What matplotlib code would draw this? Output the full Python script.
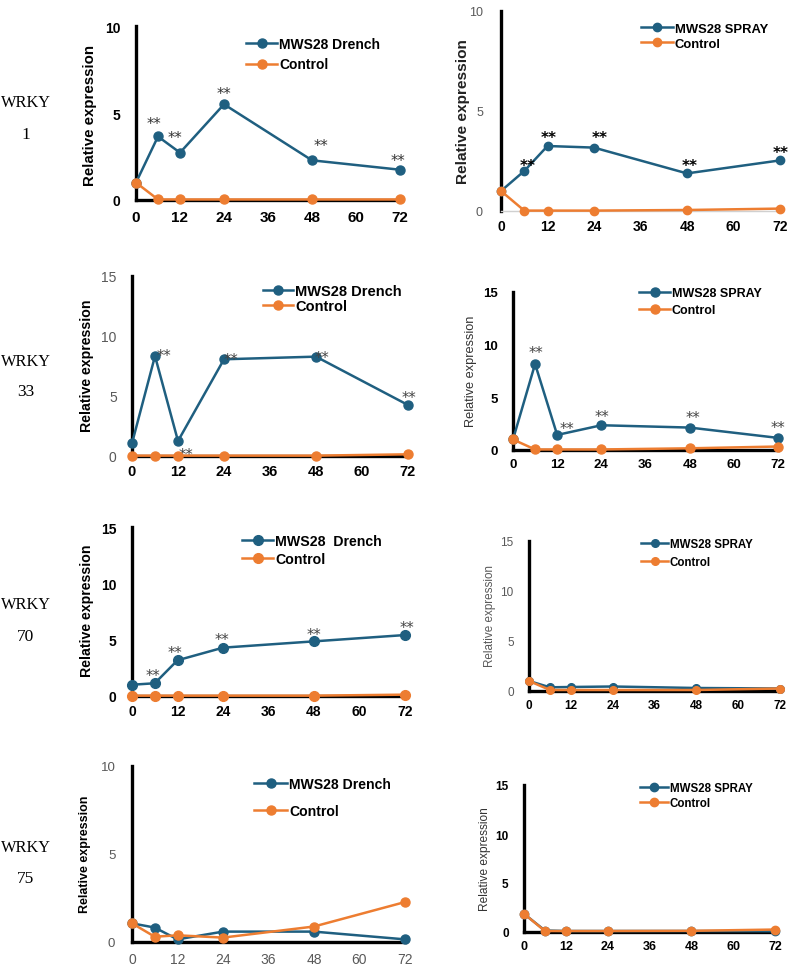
import matplotlib.pyplot as plt

plt.rcParams['font.family'] = ['Liberation Sans', 'DejaVu Sans']

W, H = 800, 978
BLUE = '#1F5F80'
ORANGE = '#ED7D31'
GREY = '#595959'

# ---- data ----
hours = [0, 6, 12, 24, 48, 72]
xticks = [0, 12, 24, 36, 48, 60, 72]
genes = ['1', '33', '70', '75']

wrky1_drench = [1.0, 3.65, 2.72, 5.5, 2.28, 1.74]
wrky1_drench_ctrl = [1.0, 0.03, 0.03, 0.03, 0.03, 0.03]
wrky1_spray = [1.0, 2.0, 3.25, 3.17, 1.88, 2.53]
wrky1_spray_ctrl = [1.0, 0.02, 0.02, 0.02, 0.05, 0.12]

wrky33_drench = [1.06, 8.33, 1.25, 8.06, 8.28, 4.25]
wrky33_drench_ctrl = [0.03, 0.03, 0.03, 0.03, 0.03, 0.14]
wrky33_spray = [1.0, 8.17, 1.43, 2.35, 2.13, 1.15]
wrky33_spray_ctrl = [1.0, 0.05, 0.05, 0.05, 0.16, 0.33]

wrky70_drench = [1.0, 1.13, 3.17, 4.29, 4.85, 5.41]
wrky70_drench_ctrl = [0.03, 0.03, 0.03, 0.03, 0.03, 0.12]
wrky70_spray = [1.0, 0.37, 0.4, 0.45, 0.3, 0.25]
wrky70_spray_ctrl = [1.0, 0.1, 0.1, 0.1, 0.1, 0.25]

wrky75_drench = [1.06, 0.82, 0.15, 0.59, 0.59, 0.15]
wrky75_drench_ctrl = [1.06, 0.3, 0.38, 0.25, 0.88, 2.27]
wrky75_spray = [1.86, 0.15, 0.1, 0.1, 0.1, 0.08]
wrky75_spray_ctrl = [1.86, 0.1, 0.1, 0.1, 0.12, 0.25]

# "**" marks (hour, value)
stars1_drench = [(4.9, 4.6), (10.6, 3.8), (24, 6.3), (50.5, 3.35), (71.5, 2.5)]
stars1_spray = [(6.8, 2.45), (12.2, 3.85), (25.5, 3.85), (48.6, 2.45), (72.2, 3.1)]
stars33_drench = [(8.4, 8.67), (14.2, 0.42), (25.8, 8.33), (49.6, 8.47), (72.2, 5.14)]
stars33_spray = [(6.25, 9.6), (14.75, 2.35), (24.2, 3.56), (49, 3.4), (72.1, 2.5)]
stars70_drench = [(5.5, 2.13), (11.3, 4.15), (23.85, 5.3), (47.9, 5.74), (72.5, 6.36)]

fig = plt.figure(figsize=(W / 100, H / 100), dpi=100)


def px_axes(x0, x72, ytop, y0):
    return fig.add_axes([x0 / W, 1 - y0 / H, (x72 - x0) / W, (y0 - ytop) / H])


def panel(box, ymax, treat, ctrl, name, st):
    ax = px_axes(*box)
    ax.plot(hours, treat, color=BLUE, marker='o', lw=st['lw'], ms=st['ms'],
            clip_on=False, label=name, zorder=3)
    ax.plot(hours, ctrl, color=ORANGE, marker='o', lw=st['lw'], ms=st['ms'],
            clip_on=False, label='Control', zorder=4)
    ax.set_xlim(0, 72)
    ax.set_ylim(0, ymax)
    ax.set_xticks(xticks)
    ax.set_yticks(range(0, ymax + 1, 5))
    for s in ['top', 'right']:
        ax.spines[s].set_visible(False)
    ax.spines['left'].set_linewidth(2.4)
    ax.spines['left'].set_color('black')
    ax.spines['bottom'].set_linewidth(st.get('xlw', 2.4))
    ax.spines['bottom'].set_color(st.get('xcol', 'black'))
    ax.patch.set_alpha(0)
    ax.tick_params(axis='x', length=0, pad=st['xpad'], labelsize=st['xfs'],
                   labelcolor=st['xcolor'])
    ax.tick_params(axis='y', length=0, pad=st['ypad'], labelsize=st['yfs'],
                   labelcolor=st['ycolor'])
    for t in ax.get_xticklabels():
        t.set_fontweight(st['xw'])
    for t in ax.get_yticklabels():
        t.set_fontweight(st['yw'])
    # y label
    lx, ly, lfs, lw_, lc = st['label']
    fig.text(lx / W, 1 - ly / H, 'Relative expression', rotation=90,
             ha='center', va='center', fontsize=lfs, fontweight=lw_, color=lc)
    # legend
    x, y, fs, row, hlen = st['legend']
    fs_px = fs * 100 / 72
    ax.legend(loc='upper left',
              bbox_to_anchor=(x / W, 1 - (y + 3 - 0.56 * fs_px) / H),
              bbox_transform=fig.transFigure, frameon=False, borderpad=0,
              borderaxespad=0, labelspacing=(row - 0.92 * fs_px) / fs_px,
              handlelength=hlen / fs_px, handletextpad=0.15,
              prop={'weight': 'bold', 'size': fs})
    return ax


def stars(ax, pts, fs=10, weight='normal', color='#333333'):
    for hx, vy in pts:
        ax.annotate('**', (hx, vy), xytext=(0, -0.55 * fs), textcoords='offset points',
                    ha='center', va='baseline', fontsize=fs, fontweight=weight,
                    color=color, family='DejaVu Sans', annotation_clip=False)


# row 1
ax = panel((136, 400, 27, 201), 10, wrky1_drench, wrky1_drench_ctrl, 'MWS28 Drench',
           dict(lw=1.8, ms=6.5, xpad=7, xfs=11, xcolor='black', xw='bold',
                ypad=11, yfs=10, ycolor='black', yw='bold',
                label=(90, 115, 10.8, 'bold', 'black'), legend=(246, 43, 10, 19, 31)))
stars(ax, stars1_drench, fs=10.5)
ax = panel((501, 780, 12, 212), 10, wrky1_spray, wrky1_spray_ctrl, 'MWS28 SPRAY',
           dict(lw=1.8, ms=6, xpad=6, xfs=10, xcolor='black', xw='bold',
                ypad=13, yfs=9, ycolor=GREY, yw='normal', xlw=1, xcol='#d0d0d0',
                label=(463, 112, 11.1, 'bold', '#222222'), legend=(641, 28, 9.4, 15, 32)))
stars(ax, stars1_spray, fs=11, weight='bold', color='black')

# row 2
ax = panel((132, 408, 277, 457), 15, wrky33_drench, wrky33_drench_ctrl, 'MWS28 Drench',
           dict(lw=1.8, ms=6.5, xpad=6, xfs=10.5, xcolor='black', xw='bold',
                ypad=11, yfs=10, ycolor=GREY, yw='normal',
                label=(87, 366, 10.2, 'bold', 'black'), legend=(263, 290, 10.5, 15, 30)))
stars(ax, stars33_drench, fs=10.5, color='#444444')
ax = panel((513, 778, 293, 451), 15, wrky33_spray, wrky33_spray_ctrl, 'MWS28 SPRAY',
           dict(lw=1.8, ms=6.5, xpad=6, xfs=9.5, xcolor='black', xw='bold',
                ypad=11, yfs=9.5, ycolor='black', yw='bold',
                label=(471, 371, 9.2, 'normal', '#333333'), legend=(639, 292, 9, 17, 31)))
stars(ax, stars33_spray, fs=10.5, color='#444444')

# row 3
ax = panel((132, 405, 528, 697), 15, wrky70_drench, wrky70_drench_ctrl, 'MWS28  Drench',
           dict(lw=1.8, ms=7, xpad=6, xfs=10, xcolor='black', xw='bold',
                ypad=11, yfs=10, ycolor='black', yw='bold',
                label=(87, 611, 10.2, 'bold', 'black'), legend=(242, 540, 10.2, 17, 31)))
stars(ax, stars70_drench, fs=10.5, color='#444444')
ax = panel((529, 780, 542, 692), 15, wrky70_spray, wrky70_spray_ctrl, 'MWS28 SPRAY',
           dict(lw=1.8, ms=5.5, xpad=6, xfs=8.5, xcolor='black', xw='bold',
                ypad=11, yfs=8.5, ycolor=GREY, yw='normal',
                label=(490, 616, 8.4, 'normal', GREY), legend=(641, 542, 8.3, 17, 27)))

# row 4
ax = panel((132, 405, 767, 943), 10, wrky75_drench, wrky75_drench_ctrl, 'MWS28 Drench',
           dict(lw=1.8, ms=6.5, xpad=7, xfs=10, xcolor=GREY, xw='normal',
                ypad=12, yfs=9.5, ycolor=GREY, yw='normal',
                label=(85, 854, 9, 'bold', 'black'), legend=(254, 783, 10.1, 26, 33)))
ax = panel((524, 775, 786, 933), 15, wrky75_spray, wrky75_spray_ctrl, 'MWS28 SPRAY',
           dict(lw=1.8, ms=6, xpad=6, xfs=9, xcolor='black', xw='bold',
                ypad=11, yfs=8.5, ycolor='black', yw='bold',
                label=(485, 859, 8.6, 'normal', '#333333'), legend=(640, 786, 8.3, 14, 28)))

# gene names on the left
row_y = [(103, 135), (362, 392), (605, 637), (848, 879)]
for g, (y1, y2) in zip(genes, row_y):
    fig.text(26 / W, 1 - y1 / H, 'WRKY', family='Liberation Serif', fontsize=11.8,
             ha='center', va='center')
    fig.text(26 / W, 1 - y2 / H, g, family='Liberation Serif', fontsize=12.5,
             ha='center', va='center')

fig.savefig('out.png', dpi=100)
